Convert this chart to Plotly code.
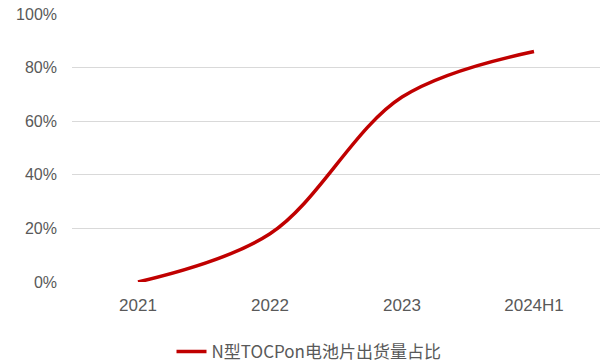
import plotly.graph_objects as go

# Share of N-type TOPCon cells in total cell shipments
categories = ["2021", "2022", "2023", "2024H1"]
share = [0.0, 0.18, 0.69, 0.86]
series_name = "N型TOCPon电池片出货量占比"
y_ticks = [0, 0.2, 0.4, 0.6, 0.8, 1.0]
y_tick_labels = ["0%", "20%", "40%", "60%", "80%", "100%"]

fig = go.Figure()
fig.add_trace(go.Scatter(
    x=categories,
    y=share,
    mode="lines",
    name=series_name,
    line=dict(color="#C00000", width=3.5, shape="spline", smoothing=1.0),
))

fig.update_layout(
    width=600,
    height=364,
    margin=dict(l=72, r=0, t=14, b=82),
    paper_bgcolor="white",
    plot_bgcolor="white",
    showlegend=True,
    legend=dict(
        orientation="h",
        xref="container",
        yref="container",
        x=0.515,
        xanchor="center",
        y=0.033,
        yanchor="middle",
        font=dict(family="Noto Sans CJK SC", size=17, color="#595959"),
    ),
    xaxis=dict(
        type="category",
        showgrid=False,
        showline=False,
        zeroline=False,
        ticks="",
        tickfont=dict(family="Liberation Sans", size=17, color="#595959"),
        ticklabelstandoff=11,
        range=[-0.5, 3.5],
        automargin=False,
    ),
    yaxis=dict(
        range=[0, 1.0],
        tickvals=y_ticks,
        ticktext=y_tick_labels,
        showgrid=True,
        gridcolor="#D9D9D9",
        gridwidth=1,
        zeroline=False,
        showline=False,
        ticks="",
        tickfont=dict(family="Liberation Sans", size=16, color="#595959"),
        ticklabelstandoff=14,
        automargin=False,
    ),
)

fig.write_html("out.html")
